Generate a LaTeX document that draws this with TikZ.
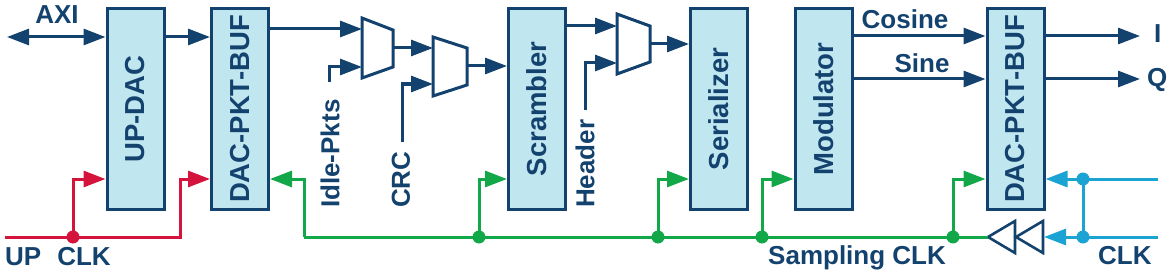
\documentclass[tikz,border=0pt]{standalone}
\usepackage{fontspec}
\setmainfont{Liberation Sans}
\usetikzlibrary{arrows.meta}
\definecolor{boxfill}{RGB}{192,230,240}
\definecolor{navy}{RGB}{20,66,110}
\definecolor{clkred}{RGB}{212,20,60}
\definecolor{clkgreen}{RGB}{18,168,74}
\definecolor{clkblue}{RGB}{27,163,212}
\begin{document}
\begin{tikzpicture}[x=1pt,y=-1pt,
  blk/.style={draw=navy, fill=boxfill, line width=3pt, minimum width=57pt, minimum height=200pt, inner sep=0pt},
  blktxt/.style={text=navy, rotate=90, inner sep=0pt, font=\fontsize{27.5}{27.5}\selectfont\bfseries},
  lbl/.style={text=navy, inner sep=0pt, font=\fontsize{26}{26}\selectfont\bfseries},
  rlbl/.style={lbl, rotate=90, anchor=west},
  tip/.style={-{Triangle[length=22pt,width=16pt]}},
  sig/.style={draw=navy, line width=3pt, tip},
  rsig/.style={draw=clkred, line width=3pt, tip},
  gsig/.style={draw=clkgreen, line width=3pt, tip},
  bsig/.style={draw=clkblue, line width=3pt, tip},
  mux/.style={draw=navy, line width=3pt, fill=white, line join=miter},
  buf/.style={draw=navy, line width=2.6pt, fill=white, line join=miter},
  dot/.style={circle, inner sep=0pt, minimum size=13pt}
]
\useasboundingbox (0,0) rectangle (1170,270);

% blocks
\node[blk] (updac) at (135.5,109) {};
\node[blktxt] at (updac) {UP-DAC};
\node[blk] (dpb1) at (240,109) {};
\node[blktxt] at (dpb1) {DAC-PKT-BUF};
\node[blk] (scr) at (537,109) {};
\node[blktxt] at (scr) {Scrambler};
\node[blk] (ser) at (719,109) {};
\node[blktxt] at (ser) {Serializer};
\node[blk] (mod) at (823.5,109) {};
\node[blktxt] at (mod) {Modulator};
\node[blk] (dpb2) at (1015.5,109) {};
\node[blktxt] at (dpb2) {DAC-PKT-BUF};

% muxes
\draw[mux] (362,18) -- (393,30) -- (393,67) -- (362,78) -- cycle;
\draw[mux] (433,37) -- (467,48) -- (467,85) -- (433,96) -- cycle;
\draw[mux] (617,14) -- (650,26) -- (650,62) -- (617,74) -- cycle;
\coordinate (m1a) at (362,29);
\coordinate (m1b) at (362,67);
\coordinate (m1o) at (393,48);
\coordinate (m2a) at (433,48);
\coordinate (m2b) at (433,84);
\coordinate (m2o) at (467,66);
\coordinate (m3a) at (617,26);
\coordinate (m3b) at (617,63);
\coordinate (m3o) at (650,44);

% data path
\coordinate (axil) at (7,37);
\draw[sig, {Triangle[length=22pt,width=16pt]}-{Triangle[length=22pt,width=16pt]}] (axil) -- (updac.west |- axil);
\node[lbl, anchor=base] (axi) at (57,24) {AXI};
\draw[sig] (updac.east |- axil) -- (dpb1.west |- axil);
\draw[sig] (dpb1.east |- m1a) -- (m1a);
\coordinate (idle) at (329,82);
\draw[sig] (idle) |- (m1b);
\node[rlbl] (idlelbl) at (330,208) {Idle-Pkts};
\draw[sig] (m1o) -- (m2a);
\coordinate (crc) at (402,142);
\draw[sig] (crc) |- (m2b);
\node[rlbl] (crclbl) at (401,208) {CRC};
\draw[sig] (m2o) -- (scr.west |- m2o);
\draw[sig] (scr.east |- m3a) -- (m3a);
\coordinate (hdr) at (585,110);
\draw[sig] (hdr) |- (m3b);
\node[rlbl] (hdrlbl) at (585,208) {Header};
\draw[sig] (m3o) -- (ser.west |- m3o);

\coordinate (cosy) at (0,36);
\coordinate (siny) at (0,79);
\draw[sig] (mod.east |- cosy) -- (dpb2.west |- cosy);
\draw[sig] (mod.east |- siny) -- (dpb2.west |- siny);
\node[lbl, anchor=base] (coslbl) at (905,29) {Cosine};
\node[lbl, anchor=base] (sinlbl) at (922,73) {Sine};
\coordinate (iout) at (1140,36);
\coordinate (qout) at (1140,79);
\draw[sig] (dpb2.east |- iout) -- (iout);
\draw[sig] (dpb2.east |- qout) -- (qout);
\node[lbl, anchor=base west] (ilbl) at (1154,43) {I};
\node[lbl, anchor=base west] (qlbl) at (1147,86) {Q};

% clock rows
\coordinate (cy) at (0,179);
% red UP CLK
\coordinate (rs) at (5,237);
\coordinate (rc) at (180,237);
\coordinate (rj) at (73,237);
\draw[rsig] (rs) -- (rc) |- (dpb1.west |- cy);
\draw[rsig] (rj) |- (updac.west |- cy);
\node[dot, fill=clkred] (rdot) at (rj) {};
\node[lbl, anchor=base west] (upclk) at (5,265) {UP\hspace{16pt}CLK};

% buffers
\draw[buf] (988,237) -- (1015,221) -- (1015,253) -- cycle;
\draw[buf] (1016,237) -- (1043,221) -- (1043,253) -- cycle;
\coordinate (buftip) at (988,237);
\coordinate (bufbase) at (1044,237);

% green sampling clock
\coordinate (gc) at (304,237);
\draw[draw=clkgreen, line width=3pt] (buftip) -- (gc);
\draw[gsig] (gc) |- (dpb1.east |- cy);
\foreach \gx/\nm/\tg in {479/g1/scr, 658/g2/ser, 762/g3/mod, 953/g4/dpb2} {
  \coordinate (\nm) at (\gx,237);
  \draw[gsig] (\nm) |- (\tg.west |- cy);
  \node[dot, fill=clkgreen] at (\nm) {};
}
\node[lbl, anchor=base west] (sclk) at (768,264) {Sampling CLK};

% blue CLK
\coordinate (b1) at (1158,179);
\coordinate (b2) at (1158,237);
\draw[bsig] (b1) -- (dpb2.east |- cy);
\draw[bsig] (b2) -- (bufbase);
\coordinate (bv1) at (1083,179);
\coordinate (bv2) at (1083,237);
\draw[draw=clkblue, line width=3pt] (bv1) -- (bv2);
\node[dot, fill=clkblue] at (bv1) {};
\node[dot, fill=clkblue] at (bv2) {};
\node[lbl, anchor=base west] (clk) at (1098,264) {CLK};
\end{tikzpicture}
\end{document}
